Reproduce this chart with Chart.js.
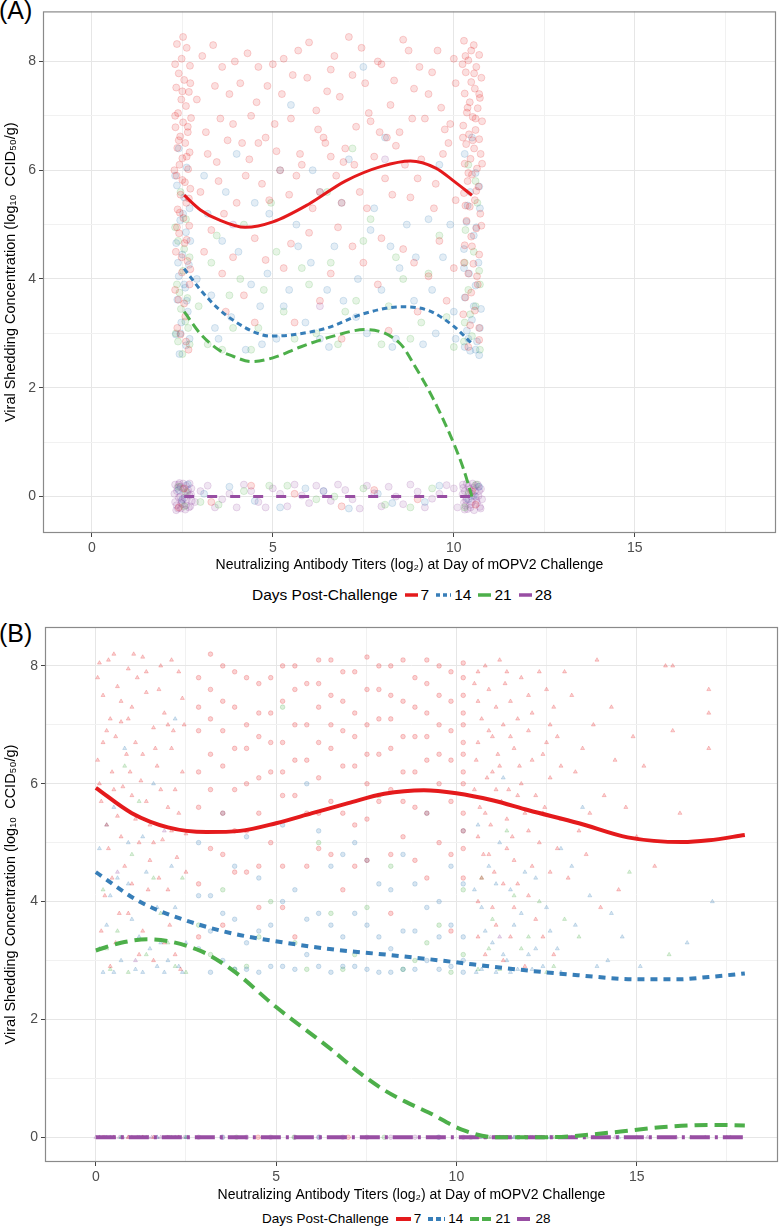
<!DOCTYPE html>
<html>
<head>
<meta charset="utf-8">
<script src="https://cdn.jsdelivr.net/npm/chart.js@4.4.1/dist/chart.umd.min.js"></script>
<style>
  body{margin:0;background:#fff;width:783px;height:1227px;position:relative;overflow:hidden;font-family:"Liberation Sans",Arial,sans-serif;}
  canvas{position:absolute;left:0;}
  .tag{position:absolute;left:-1px;font-size:25px;color:#000;}
  .legend{position:absolute;display:flex;align-items:center;white-space:nowrap;color:#000;}
  .legend svg{margin:0 3px 0 7px;}
</style>
</head>
<body>
<div class="tag" style="top:-4px">(A)</div>
<canvas id="chartA" width="783" height="580" style="top:0"></canvas>
<div class="legend" id="legA" style="left:252px;top:586px;font-size:15.5px"></div>

<div class="tag" style="top:619px">(B)</div>
<canvas id="chartB" width="783" height="590" style="top:615px"></canvas>
<div class="legend" id="legB" style="left:262px;top:1211px;font-size:13.5px"></div>

<script>
const dayLabels = ["7", "14", "21", "28"];
const dayColors = ["#E41A1C", "#377EB8", "#4DAF4A", "#984EA3"];
const xTicks = [0, 2.5, 5, 7.5, 10, 12.5, 15, 17.5];
const yTicks = [0, 1, 2, 3, 4, 5, 6, 7, 8];
const xTitle = "Neutralizing Antibody Titers (log\u2082) at Day of mOPV2 Challenge";
const yTitle = "Viral Shedding Concentration (log\u2081\u2080  CCID\u2085\u2080/g)";

// ---- panel A : observations ----
const ptsA7 = [
  [2.35,8.32],[2.62,8.25],[2.48,8.05],[2.71,7.92],[2.4,7.78],[2.55,7.66],[2.33,7.52],[2.68,7.44],[2.47,7.3],[2.6,7.18],
  [2.38,7.05],[2.74,6.96],[2.52,6.88],[2.31,6.79],[2.65,6.7],[2.44,6.62],[2.58,6.5],[2.36,6.41],[2.7,6.33],[2.5,6.22],
  [2.42,6.1],[2.66,6.02],[2.34,5.9],[2.57,5.78],[2.72,5.66],[2.45,5.55],[2.61,5.4],[2.37,5.28],[2.53,5.12],[2.69,4.98],
  [2.41,4.84],[2.56,4.66],[2.32,4.5],[2.64,4.33],[2.49,4.12],[2.7,3.9],[2.39,3.62],[2.58,3.31],[2.45,2.98],[2.67,2.7],
  [2.3,7.0],[2.5,7.45],[2.72,7.6],[2.4,6.55],[2.62,6.25],[2.28,6.0],[2.5,5.82],[2.68,5.48],[2.43,5.22],[2.35,4.95],
  [2.62,4.72],[2.48,4.4],[2.72,4.18],[2.3,3.8],[2.55,3.55],[2.36,3.1],[2.6,2.85],[2.52,8.45],[2.3,7.95],[2.65,6.8],
  [10.28,8.38],[10.55,8.3],[10.7,8.12],[10.4,8.02],[10.62,7.9],[10.33,7.8],[10.76,7.7],[10.48,7.62],[10.58,7.5],[10.3,7.41],
  [10.72,7.33],[10.44,7.25],[10.66,7.14],[10.36,7.06],[10.52,6.98],[10.78,6.9],[10.26,6.82],[10.6,6.74],[10.42,6.66],[10.7,6.57],
  [10.34,6.48],[10.56,6.4],[10.74,6.3],[10.46,6.21],[10.3,6.12],[10.64,6.03],[10.5,5.92],[10.38,5.8],[10.68,5.7],[10.28,5.58],
  [10.58,5.45],[10.44,5.33],[10.73,5.2],[10.35,5.07],[10.62,4.93],[10.48,4.78],[10.3,4.62],[10.7,4.45],[10.54,4.28],[10.4,4.1],
  [10.66,3.9],[10.32,3.66],[10.58,3.42],[10.45,3.15],[10.7,2.88],
  [10.24,7.95],[10.48,8.2],[10.7,7.4],[10.38,7.15],[10.6,6.95],[10.25,6.6],[10.52,6.55],[10.78,6.12],[10.4,5.95],[10.62,5.62],
  [10.32,5.35],[10.76,4.98],[10.5,4.6],[10.28,4.3],[10.64,4.05],[10.48,3.75],[10.26,3.35],[10.7,3.1],[10.4,2.75],[10.56,7.78],
  [10.32,8.1],
  [3.05,8.1],[3.4,7.55],[3.6,7.9],[3.9,6.85],[4.1,7.6],[4.3,8.15],[4.55,7.25],[4.8,6.6],[5.0,7.95],[5.25,7.4],
  [5.5,6.95],[5.7,8.2],[5.95,7.7],[6.2,7.1],[6.45,6.5],[6.6,7.85],[6.85,7.35],[7.1,8.45],[7.3,6.8],[7.55,7.6],
  [7.8,6.25],[8.0,7.95],[8.25,7.2],[8.5,6.7],[8.75,8.2],[8.9,7.5],[9.2,6.95],[9.4,7.8],[9.65,7.15],[9.85,6.5],
  [10.05,7.6],[3.2,6.3],[3.5,5.8],[3.75,6.55],[4.0,5.4],[4.35,6.2],[4.7,5.75],[5.1,6.35],[5.45,5.55],[5.8,6.1],
  [6.1,5.3],[6.4,6.6],[6.75,5.9],[7.0,6.4],[7.4,5.6],[7.7,6.9],[8.1,5.85],[8.4,6.45],[8.8,5.5],[9.1,6.2],
  [9.5,5.75],[9.9,6.85],[3.3,4.9],[3.9,4.4],[4.5,4.75],[5.3,4.2],[6.0,4.85],[6.6,4.1],[7.2,4.6],[7.9,3.9],
  [8.6,4.55],[9.3,4.05],[9.8,3.6],[3.7,3.4],[5.6,3.2],[8.2,3.05],
  [2.9,7.3],[3.15,6.7],[3.35,8.3],[3.55,6.95],[3.8,7.4],[3.95,8.0],[4.15,6.5],[4.4,7.0],[4.6,7.9],[4.85,7.55],
  [5.05,6.85],[5.3,8.05],[5.55,7.75],[5.75,6.3],[6.0,8.35],[6.25,6.75],[6.5,7.45],[6.7,8.1],[6.95,6.15],[7.2,7.75],
  [7.45,8.25],[7.65,7.05],[7.9,8.0],[8.15,6.6],[8.35,7.65],[8.6,8.4],[8.85,6.95],[9.05,7.9],[9.3,7.4],[9.55,8.2],
  [9.75,6.75],[10.0,8.05],[3.0,5.6],[3.45,6.15],[3.65,5.2],[4.25,5.9],[4.6,6.5],[4.9,5.45],[5.2,6.0],[5.65,5.9],
  [6.3,5.6],[6.6,6.25],[6.9,5.4],[7.25,6.1],[7.6,5.3],[7.95,6.7],[8.3,5.55],[8.65,6.1],[9.0,5.85],[9.45,5.3],
  [9.7,6.3],[10.05,5.45],[3.1,4.5],[3.6,4.1],[4.2,3.7],[4.8,4.35],[5.5,4.65],[6.3,3.6],[6.8,4.95],[7.5,4.3],
  [8.0,4.75],[8.9,4.3],[9.6,4.7],[10.0,4.2],[4.5,3.2],[6.9,2.9],[9.0,3.4],
  [2.55,0.15],[3.3,-0.1],[4.4,0.2],[5.6,0.05],[6.9,-0.18],[7.8,0.12],[9.0,-0.05],[10.5,0.1],[2.4,-0.2],[10.6,-0.15]
];
const ptsA14 = [
  [2.4,6.4],[2.62,6.05],[2.35,5.72],[2.55,5.5],[2.7,5.3],[2.44,5.08],[2.6,4.86],[2.33,4.66],[2.5,4.45],[2.68,4.26],
  [2.4,4.05],[2.58,3.84],[2.36,3.62],[2.65,3.4],[2.47,3.2],[2.32,2.98],[2.6,2.78],[2.42,2.62],
  [2.3,5.9],[2.52,5.2],[2.72,4.7],[2.38,4.3],[2.62,3.6],[2.45,3.0],[2.7,2.9],[2.55,3.9],
  [10.3,6.3],[10.6,5.95],[10.45,5.6],[10.72,5.3],[10.35,5.05],[10.55,4.8],[10.28,4.55],[10.68,4.3],[10.42,4.1],[10.6,3.88],
  [10.3,3.66],[10.75,3.45],[10.5,3.25],[10.36,3.05],[10.64,2.85],[10.45,2.68],[10.7,2.6],[10.3,2.75],
  [10.5,6.6],[10.7,5.7],[10.38,5.35],[10.62,4.95],[10.28,4.2],[10.55,3.5],[10.72,3.1],[10.4,2.9],[10.6,2.7],
  [3.1,5.9],[3.6,4.7],[4.0,6.3],[4.4,3.9],[4.9,5.2],[5.3,3.5],[5.7,4.6],[6.1,6.0],[6.5,3.8],[6.9,5.4],
  [7.3,3.3],[7.7,4.9],[8.1,6.6],[8.5,4.2],[8.9,3.6],[9.3,5.1],[9.7,4.4],[10.0,3.4],[3.4,3.1],[4.7,2.8],
  [6.3,2.9],[8.3,2.75],[9.5,3.0],[5.5,7.2],[7.5,7.9],
  [2.9,4.0],[3.2,5.2],[3.3,3.7],[3.5,2.9],[3.7,5.6],[3.85,3.3],[4.05,4.5],[4.25,2.7],[4.5,5.4],[4.65,3.5],
  [4.85,4.1],[5.1,2.9],[5.2,6.0],[5.45,3.8],[5.65,5.0],[5.9,3.2],[6.05,4.3],[6.3,5.6],[6.55,2.75],[6.7,4.6],
  [6.95,3.6],[7.1,6.2],[7.35,4.0],[7.6,3.0],[7.8,5.3],[8.0,3.8],[8.25,4.6],[8.4,2.9],[8.7,5.0],[8.95,4.4],
  [9.15,2.8],[9.4,3.8],[9.6,6.1],[9.9,5.0],[10.05,2.9],
  [2.5,-0.05],[3.8,0.18],[5.2,-0.2],[6.4,0.1],[8.3,-0.12],[9.6,0.2],[10.55,0.02],[2.65,0.22],
  [3.1,0.05],[4.5,-0.08],[5.9,0.15],[7.1,-0.22],[7.9,0.05],[9.2,-0.1],[2.4,0.12],[10.4,-0.05],[10.7,0.18]
];
const ptsA21 = [
  [2.45,5.6],[2.6,5.1],[2.38,4.7],[2.7,4.4],[2.52,4.15],[2.35,3.9],[2.64,3.65],[2.46,3.45],[2.58,3.22],[2.32,3.0],
  [2.7,2.8],[2.5,2.62],[2.3,4.95],[2.55,4.55],[2.42,3.75],[2.66,3.1],[2.38,2.85],
  [10.4,6.1],[10.65,5.4],[10.32,4.9],[10.55,4.5],[10.7,4.15],[10.4,3.8],[10.6,3.5],[10.3,3.2],[10.5,2.95],[10.72,2.7],
  [10.6,5.8],[10.3,4.3],[10.72,3.9],[10.45,3.35],[10.28,2.85],
  [3.3,4.3],[3.8,3.7],[4.2,5.0],[4.6,3.1],[5.1,4.5],[5.6,2.9],[6.0,3.9],[6.5,5.6],[7.0,3.4],[7.5,4.7],
  [8.0,2.8],[8.6,4.0],[9.1,3.2],[9.6,4.8],[3.6,2.7],[7.2,6.4],
  [2.95,3.5],[3.2,2.8],[3.45,4.8],[3.9,3.1],[4.1,4.0],[4.4,2.7],[4.75,3.8],[4.95,5.4],[5.3,3.4],[5.8,4.2],
  [6.2,3.0],[6.6,4.3],[6.8,2.8],[7.3,3.6],[7.7,5.1],[8.2,3.5],[8.4,4.4],[8.8,2.9],[9.3,4.1],[9.8,3.3],[10.0,2.75],
  [2.6,0.08],[3.5,-0.15],[4.9,0.2],[6.2,-0.05],[7.5,0.15],[8.8,-0.2],[10.4,0.05],[2.4,0.18],
  [3.0,-0.1],[4.2,0.1],[5.4,0.2],[6.7,0.0],[8.1,-0.15],[9.4,0.15],[2.55,-0.18],[10.62,0.22],[10.3,-0.2]
];
const ptsA28 = [
  [2.3,0.22],[2.45,0.18],[2.6,0.2],[2.75,0.15],[2.35,0.1],[2.55,0.06],[2.7,0.02],[2.4,-0.02],[2.62,-0.06],[2.3,-0.1],
  [2.5,-0.14],[2.72,-0.18],[2.38,-0.22],[2.58,-0.24],[2.44,0.0],[2.66,0.12],[2.34,-0.16],[2.52,0.24],[2.48,-0.08],[2.68,-0.2],
  [2.28,0.05],[2.42,0.25],[2.56,-0.02],[2.7,0.24],[2.33,-0.25],[2.47,-0.12],[2.64,0.08],[2.76,-0.08],[2.52,0.14],[2.4,0.22],
  [2.6,-0.16],[2.36,0.16],[2.74,0.04],[2.46,-0.22],
  [10.25,0.22],[10.4,0.18],[10.58,0.2],[10.75,0.14],[10.3,0.1],[10.5,0.05],[10.68,0.01],[10.35,-0.03],[10.62,-0.07],[10.28,-0.11],
  [10.45,-0.15],[10.72,-0.19],[10.38,-0.23],[10.56,-0.25],[10.48,0.0],[10.7,0.1],[10.32,-0.17],[10.52,0.24],[10.42,0.08],[10.64,-0.12],
  [10.24,0.04],[10.36,0.24],[10.5,-0.1],[10.66,0.22],[10.78,-0.05],[10.3,-0.24],[10.44,0.14],[10.6,0.0],[10.74,-0.22],[10.54,0.16],
  [10.34,-0.07],[10.68,0.18],[10.26,0.16],[10.46,-0.2],[10.58,0.1],
  [3.0,0.1],[3.4,-0.2],[3.8,0.05],[4.2,0.22],[4.6,-0.1],[5.0,0.15],[5.4,-0.18],[5.8,0.02],[6.2,0.2],[6.6,-0.08],
  [7.0,0.12],[7.4,-0.22],[7.8,0.06],[8.2,0.18],[8.6,-0.14],[9.0,0.09],[9.4,-0.04],[9.8,0.21],[10.1,-0.2],
  [2.85,-0.1],[3.2,0.2],[3.6,-0.05],[4.0,-0.2],[4.4,0.1],[4.8,-0.2],[5.2,0.05],[5.6,0.22],[6.0,-0.12],[6.4,0.1],
  [6.8,0.22],[7.2,-0.05],[7.6,0.2],[8.0,-0.18],[8.4,0.0],[8.8,0.22],[9.2,-0.2],[9.6,0.05],[10.0,0.15],
  [3.9,5.0],[8.1,6.2],[6.3,3.5]
];

// ---- panel A : smoothed fits ----
const fitAx7 = [2.55, 3.0, 3.5, 4.24, 5.0, 6.0, 7.0, 8.0, 8.8, 9.5, 10.0, 10.5];
const fitAy7 = [5.54, 5.27, 5.09, 4.95, 5.05, 5.38, 5.8, 6.07, 6.17, 6.04, 5.8, 5.54];
const fitAx14 = [2.55, 3.0, 3.5, 4.0, 4.5, 4.93, 5.5, 6.5, 7.5, 8.57, 9.3, 10.0, 10.5];
const fitAy14 = [4.19, 3.8, 3.45, 3.2, 3.02, 2.95, 2.97, 3.1, 3.36, 3.49, 3.42, 3.13, 2.81];
const fitAx21 = [2.55, 3.0, 3.5, 3.9, 4.4, 5.0, 5.76, 6.67, 7.55, 8.52, 8.93, 9.35, 9.9, 10.26, 10.5];
const fitAy21 = [3.4, 2.99, 2.7, 2.58, 2.48, 2.55, 2.75, 2.95, 3.07, 2.81, 2.39, 1.9, 1.13, 0.52, 0.0];
const fitAx28 = [2.55, 10.5];
const fitAy28 = [0, 0];

// ---- panel B : observations ----
const ptsB7 = [
  [0.1,8.05],[0.5,8.2],[0.9,7.95],[1.3,8.15],[1.8,8.0],[2.3,7.9],[0.2,7.5],[0.6,7.65],[1.0,7.3],[1.4,7.55],
  [1.9,7.2],[2.4,7.45],[0.3,6.9],[0.7,7.05],[1.1,6.7],[1.6,6.95],[2.1,6.6],[0.05,6.4],[0.45,6.2],[0.85,6.5],
  [1.25,6.05],[1.7,6.3],[2.2,5.9],[0.15,5.7],[0.6,5.45],[1.0,5.8],[1.5,5.3],[2.0,5.6],[2.5,5.15],[0.35,4.9],
  [0.8,4.6],[1.2,5.0],[1.75,4.4],[2.25,4.75],[0.25,4.1],[0.9,3.8],[1.45,4.2],[2.05,3.6],[0.55,3.3],[1.6,3.0],
  [2.35,2.85],[0.4,7.1],[1.15,7.8],[2.15,6.9],[0.75,5.95],[1.85,5.05],
  [0.05,7.8],[0.35,8.1],[0.7,7.4],[1.05,8.2],[1.4,7.9],[1.75,7.6],[2.1,8.1],[2.45,7.0],[0.2,6.7],[0.55,6.8],
  [0.9,7.1],[1.3,6.5],[1.65,6.6],[2.0,7.0],[2.4,6.2],[0.1,6.0],[0.5,5.9],[0.95,6.2],[1.4,5.7],[1.8,5.9],
  [2.3,5.5],[0.3,5.3],[0.7,5.1],[1.1,5.4],[1.6,5.0],[2.1,5.2],[0.45,4.4],[1.0,4.3],[1.5,4.7],[2.0,4.2],
  [2.5,4.5],[0.15,3.5],[0.65,3.8],[1.3,3.5],[1.9,3.3],[0.4,2.9],[1.2,3.1],[2.2,3.1],
  [2.85,7.8],[2.85,6.9],[2.85,5.6],[2.85,4.3],[3.18,8.2],[3.18,7.1],[3.18,5.9],[3.52,7.4],[3.52,6.3],[3.52,4.8],
  [3.52,3.6],[3.85,7.9],[3.85,6.6],[3.85,5.2],[4.18,7.0],[4.18,6.0],[4.18,4.5],[4.52,7.7],[4.52,6.8],[4.52,5.5],
  [4.52,3.9],[4.85,7.2],[4.85,6.2],[5.18,8.0],[5.18,6.7],[5.18,5.8],[5.18,4.6],[5.52,7.6],[5.52,6.4],[5.52,3.4],
  [5.85,7.0],[5.85,5.5],[6.18,8.1],[6.18,7.3],[6.18,6.1],[6.18,4.9],[6.52,7.5],[6.52,6.6],[6.52,5.7],[6.85,7.9],
  [6.85,6.9],[6.85,4.2],[7.18,7.2],[7.18,6.3],[7.18,5.3],[7.52,8.15],[7.52,7.0],[7.52,6.0],[7.52,4.7],[7.85,7.6],
  [7.85,6.5],[8.18,8.0],[8.18,7.1],[8.18,5.9],[8.18,3.8],[8.52,7.4],[8.52,6.2],[8.52,5.1],[8.85,7.8],[8.85,6.8],
  [8.85,5.6],[9.18,8.1],[9.18,7.2],[9.18,6.4],[9.18,4.4],[9.52,7.5],[9.52,6.0],[9.52,5.0],[9.85,7.9],[9.85,6.9],
  [9.85,5.7],[9.85,3.5],[10.19,8.05],[10.19,7.5],[10.19,7.0],[10.19,6.5],[10.19,6.0],[10.19,5.5],[10.19,4.9],
  [2.85,7.3],[2.85,6.2],[2.85,3.4],[3.18,7.6],[3.18,6.5],[3.18,4.9],[3.52,8.0],[3.52,6.9],[3.52,5.5],[3.85,7.3],
  [3.85,5.9],[3.85,4.5],[4.18,7.8],[4.18,6.6],[4.18,5.2],[4.52,7.2],[4.52,6.1],[4.52,4.6],[4.85,7.8],[4.85,6.7],
  [4.85,5.0],[5.18,7.4],[5.18,6.2],[5.18,3.9],[5.52,8.0],[5.52,7.0],[5.52,5.8],[5.85,7.7],[5.85,6.4],[5.85,4.6],
  [6.18,7.7],[6.18,6.7],[6.18,5.5],[6.52,8.1],[6.52,7.0],[6.52,4.8],[6.85,7.4],[6.85,6.3],[6.85,5.5],[7.18,7.9],
  [7.18,6.8],[7.18,4.6],[7.52,7.6],[7.52,6.5],[7.52,5.4],[7.85,8.0],[7.85,7.1],[7.85,5.7],[8.18,7.5],[8.18,6.6],
  [8.18,4.8],[8.52,8.1],[8.52,6.8],[8.52,5.7],[8.85,7.3],[8.85,6.2],[8.85,4.7],[9.18,7.7],[9.18,6.8],[9.18,5.5],
  [9.52,8.0],[9.52,7.0],[9.52,6.5],[9.85,7.4],[9.85,6.4],[9.85,4.8],[10.19,7.8],[10.19,7.2],[10.19,6.7],[10.19,6.2],
  [10.19,5.2],[10.19,4.4],
  [10.6,7.9],[10.9,7.6],[11.2,8.1],[11.5,7.4],[11.8,7.8],[12.1,7.2],[12.5,7.6],[10.7,7.1],[11.0,6.8],[11.3,7.0],
  [11.6,6.6],[12.0,6.9],[12.4,6.5],[12.8,6.8],[10.55,6.4],[10.85,6.1],[11.15,6.5],[11.45,5.9],[11.75,6.3],[12.2,5.8],
  [12.6,6.1],[10.65,5.6],[10.95,5.3],[11.25,5.7],[11.55,5.1],[11.9,5.5],[12.3,5.0],[12.9,5.4],[10.75,4.8],[11.05,4.5],
  [11.4,4.9],[11.7,4.3],[12.1,4.6],[10.6,4.0],[11.1,3.6],[11.6,3.9],[12.4,3.4],[10.8,3.1],[11.9,2.9],[10.6,7.4],
  [11.35,7.7],[12.7,7.3],[11.0,6.2],[12.45,5.6],
  [10.5,7.7],[10.8,8.0],[11.1,7.3],[11.4,7.9],[11.7,7.1],[12.0,7.5],[12.3,7.9],[12.6,7.0],[10.6,6.7],[10.9,6.9],
  [11.2,6.3],[11.5,6.8],[11.8,6.0],[12.1,6.4],[12.5,6.7],[12.9,6.3],[10.5,5.9],[10.8,5.5],[11.1,5.9],[11.4,5.4],
  [11.7,5.8],[12.0,5.2],[12.4,5.5],[12.8,4.9],[10.6,5.1],[10.9,4.8],[11.3,4.3],[11.6,4.7],[12.0,4.1],[12.6,4.5],
  [10.7,4.4],[11.0,3.9],[11.5,3.4],[12.2,3.7],[10.6,3.4],[11.3,3.0],[12.7,3.1],
  [13.2,7.5],[13.5,6.6],[13.8,7.0],[14.1,5.8],[14.4,6.4],[13.4,5.2],[14.7,5.6],[15.2,6.3],[16.0,8.0],[16.0,6.9],
  [17.0,7.6],[17.0,7.2],[17.0,6.6],[15.5,4.6],[13.1,4.4],[14.0,3.9],[16.2,5.5],[13.9,8.1],[15.8,8.0],
  [13.0,7.9],[13.3,6.2],[13.7,5.5],[14.3,7.3],[14.9,6.8],[13.6,4.8],[14.5,4.2],[15.0,5.1],
  [0.5,0],[1.6,0],[2.3,0],[4.5,0],[7.0,0],[10.8,0],[11.9,0],[13.0,0],
  [0.2,0],[0.9,0],[1.3,0],[2.0,0],[10.6,0],[11.4,0],[12.3,0],[12.9,0]
];
const ptsB14 = [
  [0.1,4.9],[0.5,5.6],[0.9,4.3],[1.3,5.1],[1.7,3.9],[2.1,4.6],[2.5,3.3],[0.3,3.6],[0.7,3.0],[1.1,2.85],
  [1.5,3.2],[1.9,2.8],[2.3,2.9],[0.2,2.8],[0.8,6.6],[1.6,6.0],[2.2,7.1],[0.4,4.1],[1.2,3.4],[2.0,3.0],
  [0.1,3.2],[0.6,4.4],[1.0,3.7],[1.4,4.5],[1.8,3.3],[2.2,3.9],[0.3,5.3],[0.9,5.0],[1.7,2.9],[2.4,2.8],
  [0.5,2.8],[1.3,2.8],
  [2.85,5.0],[2.85,3.2],[3.18,4.1],[3.18,2.8],[3.52,5.5],[3.52,3.0],[3.85,3.7],[3.85,2.85],[4.18,5.1],[4.18,3.3],
  [4.52,4.4],[4.52,2.8],[4.85,3.6],[5.18,5.3],[5.18,2.9],[5.52,4.2],[5.85,3.1],[5.85,6.0],[6.18,3.8],[6.52,4.6],
  [6.52,2.8],[6.85,3.4],[7.18,5.0],[7.18,2.9],[7.52,3.6],[7.85,4.3],[7.85,2.8],[8.18,3.2],[8.52,4.8],[8.52,2.85],
  [8.85,3.5],[9.18,5.5],[9.18,3.0],[9.52,4.0],[9.85,2.9],[9.85,4.6],[10.19,3.4],[10.19,2.8],[10.19,5.2],
  [2.85,4.1],[3.18,3.5],[3.52,3.8],[3.85,4.6],[4.18,2.85],[4.52,3.5],[4.85,2.9],[5.18,4.0],[5.52,2.85],[5.85,3.7],
  [6.18,2.9],[6.18,5.2],[6.52,3.6],[6.85,4.8],[6.85,2.9],[7.18,3.8],[7.52,2.85],[7.52,4.7],[7.85,3.4],[8.18,4.2],
  [8.18,2.8],[8.52,3.5],[8.85,4.3],[8.85,2.85],[9.18,3.9],[9.52,2.85],[9.52,3.4],[9.85,3.6],[10.19,4.3],[10.19,3.0],
  [10.6,5.3],[10.9,4.6],[11.2,5.0],[11.5,4.2],[11.8,3.8],[12.2,4.4],[12.6,3.5],[10.7,3.9],[11.0,3.3],[11.4,3.0],
  [11.7,2.85],[12.0,3.1],[12.4,2.9],[12.8,3.2],[10.55,2.8],[11.3,6.1],[12.9,4.9],[13.3,3.6],[13.7,4.1],[14.2,3.0],
  [14.6,3.4],[15.1,2.9],[16.4,3.3],[17.1,4.0],[13.5,5.6],[10.8,2.9],[11.1,2.8],
  [10.5,4.2],[10.8,3.5],[11.1,4.3],[11.3,3.1],[11.6,3.6],[11.9,4.5],[12.2,3.2],[12.5,3.9],[10.7,2.85],[11.5,2.8],
  [12.1,2.85],[12.9,2.8],[13.2,4.6],[13.9,2.9],[14.3,3.8],
  [0.3,0],[1.2,0],[2.0,0],[3.5,0],[6.2,0],[9.5,0],[11.2,0],[12.6,0],[14.5,0],
  [0.7,0],[1.7,0],[2.5,0],[10.7,0],[11.6,0],[12.2,0]
];
const ptsB21 = [
  [0.2,4.2],[0.6,3.5],[1.0,4.8],[1.4,3.1],[1.8,3.8],[2.2,2.9],[0.4,2.85],[1.2,5.7],[2.4,4.4],[0.8,6.3],
  [0.3,3.2],[0.9,2.8],[1.6,4.4],[2.0,3.3],[2.5,2.8],
  [2.85,3.6],[3.52,4.2],[4.18,2.9],[4.85,4.0],[5.52,3.3],[6.18,5.0],[6.85,2.85],[7.52,3.9],[8.18,4.6],[8.85,3.0],
  [9.52,3.6],[10.19,4.2],[5.18,7.3],[7.85,5.8],
  [3.18,3.1],[3.85,2.85],[4.52,3.4],[5.85,2.85],[6.52,3.8],[7.18,3.1],[8.52,2.85],[9.18,3.3],[9.85,2.8],[10.19,3.1],
  [10.7,4.4],[11.0,3.7],[11.4,5.2],[11.8,3.2],[12.3,4.0],[12.7,2.9],[10.6,2.85],[13.4,3.4],[14.8,4.5],[15.9,3.1],
  [10.9,3.2],[11.2,2.85],[11.6,4.1],[12.0,3.4],[12.5,2.8],[13.0,3.7],
  [0.1,0],[0.7,0],[1.4,0],[2.1,0],[2.5,0],[3.9,0],[5.5,0],[8.0,0],[10.4,0],[10.9,0],
  [11.5,0],[12.1,0],[12.7,0],[13.6,0],[15.0,0],[16.5,0],[17.6,0]
];
const ptsB28 = [
  [0.0,0],[0.25,0],[0.5,0],[0.75,0],[1.0,0],[1.3,0],[1.55,0],[1.8,0],[2.05,0],[2.3,0],
  [2.55,0],[2.85,0],[3.52,0],[4.18,0],[4.85,0],[5.52,0],[6.18,0],[6.85,0],[7.52,0],[8.18,0],
  [8.85,0],[9.52,0],[10.19,0],[10.55,0],[10.8,0],[11.05,0],[11.3,0],[11.6,0],[11.9,0],[12.2,0],
  [12.5,0],[12.8,0],[13.2,0],[13.8,0],[14.4,0],[15.3,0],[16.1,0],[16.9,0],[17.5,0],
  [0.1,0],[0.4,0],[0.65,0],[0.9,0],[1.15,0],[1.45,0],[1.7,0],[1.95,0],[2.2,0],[2.45,0],
  [10.65,0],[10.95,0],[11.2,0],[11.45,0],[11.75,0],[12.05,0],[12.35,0],[12.65,0],[12.95,0],
  [1.1,3.0],[0.6,4.5],[11.2,3.4],[1.9,5.2]
];

// ---- panel B : smoothed fits ----
const fitBx7 = [0, 1, 2, 3.07, 4, 5, 6, 7, 8, 9.1, 10, 11, 12, 13.4, 14.75, 16.27, 17, 18];
const fitBy7 = [5.93, 5.5, 5.26, 5.18, 5.2, 5.33, 5.5, 5.67, 5.83, 5.89, 5.84, 5.72, 5.55, 5.33, 5.09, 5.01, 5.04, 5.13];
const fitBx14 = [0, 1.21, 2.5, 3.78, 5.17, 6.55, 8.2, 9.7, 11.35, 13.37, 15.03, 16.1, 17, 18];
const fitBy14 = [4.5, 4.0, 3.68, 3.46, 3.31, 3.19, 3.09, 2.99, 2.87, 2.75, 2.68, 2.68, 2.72, 2.78];
const fitBx21 = [0, 0.7, 1.45, 2.87, 3.78, 5.0, 6.55, 7.3, 8.0, 8.6, 9.23, 10.15, 11.1, 12.5, 14.3, 15.66, 17, 18];
const fitBy21 = [3.17, 3.3, 3.36, 3.17, 2.84, 2.21, 1.48, 1.1, 0.8, 0.6, 0.42, 0.13, 0.0, 0.0, 0.08, 0.17, 0.21, 0.2];
const fitBx28 = [0, 18];
const fitBy28 = [0, 0];

Chart.defaults.font.family = '"Liberation Sans", Arial, sans-serif';

function rgba(hex, a){
  const n = parseInt(hex.slice(1), 16);
  return `rgba(${n >> 16},${(n >> 8) & 255},${n & 255},${a})`;
}
const toXY = pts => pts.map(p => ({x: p[0], y: p[1]}));
const fit = (xs, ys) => xs.map((x, i) => ({x: x, y: ys[i]}));

const panelBorder = {
  id: "panelBorder",
  afterDraw(chart){
    const a = chart.chartArea, c = chart.ctx;
    c.save();
    c.strokeStyle = "#8a8a8a";
    c.lineWidth = 1.2;
    c.strokeRect(a.left + 0.5, a.top + 0.5, a.right - a.left - 1, a.bottom - a.top - 1);
    c.restore();
  }
};

function makePanel(id, p){
  const datasets = [];
  p.fits.forEach((f, i) => {
    datasets.push({
      type: "line", label: dayLabels[i], data: f, order: 0,
      borderColor: dayColors[i], borderWidth: p.lineWidth, borderDash: p.dashes[i],
      pointRadius: 0, fill: false, cubicInterpolationMode: "monotone"
    });
  });
  p.points.forEach((pts, i) => {
    datasets.push({
      type: "scatter", label: "obs " + dayLabels[i], data: toXY(pts), order: 1,
      backgroundColor: rgba(dayColors[i], p.fillAlpha),
      borderColor: rgba(dayColors[i], p.edgeAlpha),
      borderWidth: 1, pointRadius: p.radius,
      pointStyle: p.shape
    });
  });
  return new Chart(document.getElementById(id), {
    data: {datasets: datasets},
    plugins: [panelBorder],
    options: {
      responsive: false, animation: false, devicePixelRatio: 1,
      layout: {padding: p.padding},
      plugins: {legend: {display: false}, tooltip: {enabled: false}},
      scales: {
        x: {
          type: "linear", min: p.xMin, max: p.xMax,
          afterBuildTicks: s => { s.ticks = xTicks.map(v => ({value: v})); },
          afterFit: s => { s.height = p.xAxisHeight; },
          ticks: {autoSkip: false, maxRotation: 0, padding: 3, color: "#4d4d4d", font: {size: 14},
                  callback: v => (v % 5 === 0 ? v : "")},
          grid: {color: c => (c.tick && c.tick.value % 5 === 0 ? "#e6e6e6" : "#f1f1f1"),
                 tickColor: c => (c.tick && c.tick.value % 5 === 0 ? "#444" : "rgba(0,0,0,0)"),
                 tickLength: 4},
          border: {display: false},
          title: {display: true, text: xTitle, color: "#000", font: {size: 14}, padding: {top: 2, bottom: p.xTitlePad}}
        },
        y: {
          type: "linear", min: p.yMin, max: p.yMax,
          afterBuildTicks: s => { s.ticks = yTicks.map(v => ({value: v})); },
          afterFit: s => { s.width = p.yAxisWidth; },
          ticks: {autoSkip: false, padding: 3, color: "#4d4d4d", font: {size: 14},
                  callback: v => (v % 2 === 0 ? v : "")},
          grid: {color: c => (c.tick && c.tick.value % 2 === 0 ? "#e6e6e6" : "#f1f1f1"),
                 tickColor: c => (c.tick && c.tick.value % 2 === 0 ? "#444" : "rgba(0,0,0,0)"),
                 tickLength: 4},
          border: {display: false},
          title: {display: true, text: yTitle, color: "#000", font: {size: 14.5}, padding: {top: 2, bottom: 0}}
        }
      }
    }
  });
}

makePanel("chartA", {
  points: [ptsA7, ptsA14, ptsA21, ptsA28],
  fits: [fit(fitAx7, fitAy7), fit(fitAx14, fitAy14), fit(fitAx21, fitAy21), fit(fitAx28, fitAy28)],
  dashes: [[], [5.5, 4], [10, 5], [10, 13]],
  lineWidth: 3, radius: 3.5, fillAlpha: 0.14, edgeAlpha: 0.18, shape: "circle",
  xMin: -1.35, xMax: 18.9, yMin: -0.67, yMax: 8.92,
  padding: {top: 1, right: 7, left: 0, bottom: 0},
  xAxisHeight: 47, yAxisWidth: 43, xTitlePad: 6.5
});

makePanel("chartB", {
  points: [ptsB7, ptsB14, ptsB21, ptsB28],
  fits: [fit(fitBx7, fitBy7), fit(fitBx14, fitBy14), fit(fitBx21, fitBy21), fit(fitBx28, fitBy28)],
  dashes: [[], [7, 6], [13, 7], [20, 5, 3, 5]],
  lineWidth: 4, radius: 2.3, fillAlpha: 0.2, edgeAlpha: 0.22,
  shape: c => (c.raw && (c.raw.x < 2.7 || c.raw.x > 10.4) ? "triangle" : "circle"),
  xMin: -1.41, xMax: 18.92, yMin: -0.42, yMax: 8.66,
  padding: {top: 12, right: 2, left: 0, bottom: 0},
  xAxisHeight: 43, yAxisWidth: 45, xTitlePad: 1.5
});

// legends: title plus line keys
function makeLegend(id, dashes, keyWidths, lw){
  const box = document.getElementById(id);
  const t = document.createElement("span");
  t.textContent = "Days Post-Challenge";
  box.appendChild(t);
  dayLabels.forEach((lab, i) => {
    const ns = "http://www.w3.org/2000/svg";
    const svg = document.createElementNS(ns, "svg");
    svg.setAttribute("width", keyWidths[i]);
    svg.setAttribute("height", 6);
    const ln = document.createElementNS(ns, "line");
    ln.setAttribute("x1", 0); ln.setAttribute("x2", keyWidths[i]);
    ln.setAttribute("y1", 3); ln.setAttribute("y2", 3);
    ln.setAttribute("stroke", dayColors[i]);
    ln.setAttribute("stroke-width", lw);
    if (dashes[i].length) ln.setAttribute("stroke-dasharray", dashes[i].join(" "));
    svg.appendChild(ln);
    box.appendChild(svg);
    const s = document.createElement("span");
    s.textContent = lab;
    box.appendChild(s);
  });
}
makeLegend("legA", [[], [4, 3], [], []], [13, 15, 13, 13], 3.5);
makeLegend("legB", [[], [5, 3], [9, 3], [13, 3]], [15, 17, 22, 15], 4);
</script>
</body>
</html>
